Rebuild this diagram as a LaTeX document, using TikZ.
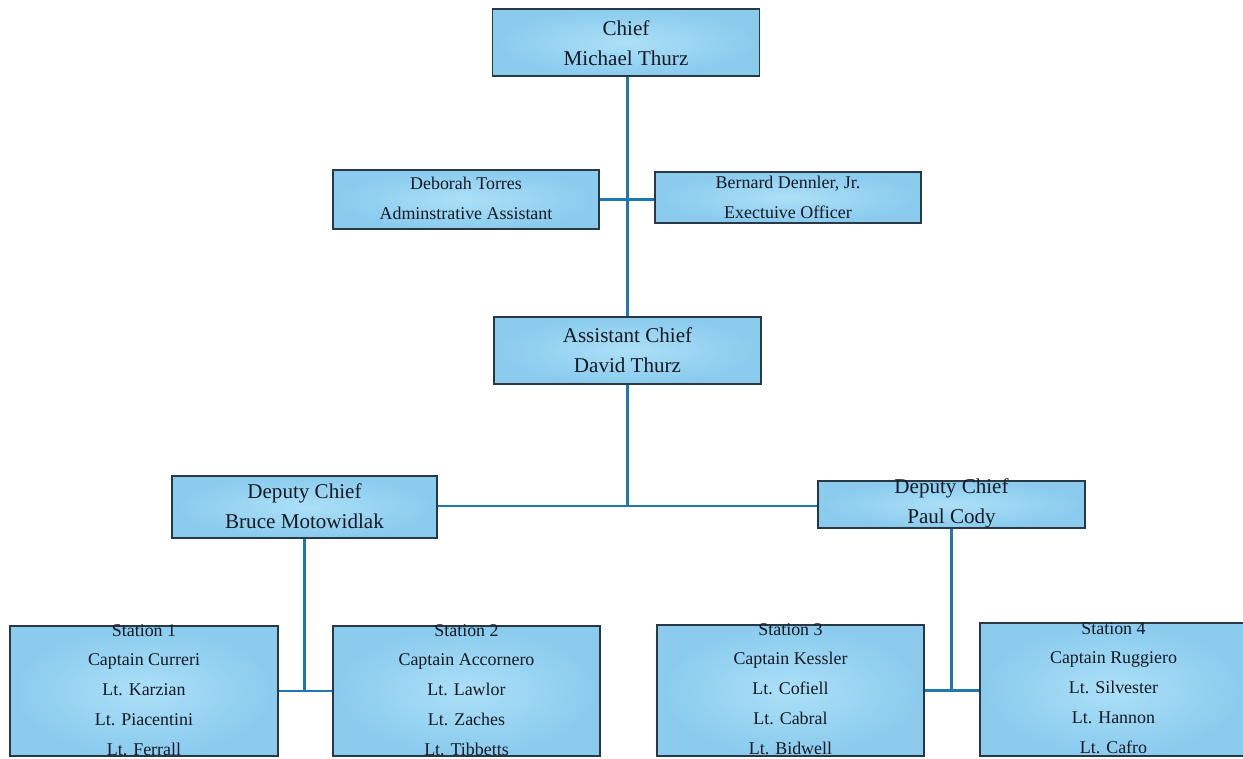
\documentclass[tikz,border=0pt]{standalone}
\usepackage{fontspec}
\setmainfont{Liberation Serif}
\usetikzlibrary{positioning}

\definecolor{boxfill}{RGB}{172,224,247}
\definecolor{boxedge}{RGB}{138,203,238}
\definecolor{boxline}{RGB}{40,56,68}
\definecolor{linkblue}{RGB}{30,120,172}
\definecolor{ink}{RGB}{20,25,35}

\begin{document}
\begin{tikzpicture}[x=0.02cm,y=-0.02cm,
    post/.style={draw=boxline,line width=1pt,inner color=boxfill,outer color=boxedge,
                 minimum width=5.34cm,inner sep=0pt},
    big/.style={align=center,inner sep=0pt,text=ink,font=\fontsize{12}{17}\selectfont},
    small/.style={align=center,inner sep=0pt,text=ink,font=\fontsize{10.2}{17}\selectfont},
    link/.style={draw=linkblue,line width=1.3pt}]
        \clip (0,0) rectangle (1243,758);

        % boxes
        \node[post,minimum height=1.34cm] at (626,42.5) (chief) {};
        \node[post,minimum width=5.32cm,minimum height=1.18cm] at (466,199.5) (torres) {};
        \node[post,minimum width=5.32cm,minimum height=1.02cm] at (788,197.5) (dennler) {};
        \node[post,minimum height=1.34cm] at (627.5,350.5) (asst) {};
        \node[post,minimum width=5.3cm,minimum height=1.24cm] at (304.5,507) (motow) {};
        \node[post,minimum height=0.94cm] at (951.5,504.5) (cody) {};
        \node[post,minimum width=5.36cm,minimum height=2.6cm] at (144,691) (st1) {};
        \node[post,minimum height=2.6cm] at (466.5,691) (st2) {};
        \node[post,minimum height=2.62cm] at (790.5,690.5) (st3) {};
        \node[post,minimum height=2.66cm] at (1113.5,689.5) (st4) {};

        % connectors
        \coordinate (split) at (asst.south |- 0,506);
        \draw[link] (asst.north |- chief.south) -- (asst.north);
        \draw[link] (torres.east) -- (torres.east -| dennler.west);
        \draw[link] (asst.south) -- (split);
        \draw[link] (motow.east |- split) -- (cody.west |- split);
        \draw[link] (motow.south) -- (motow.south |- st1.east);
        \draw[link] (st1.east) -- (st2.west);
        \draw[link] (cody.south) -- (cody.south |- st3.east);
        \draw[link] (st3.east) -- (st3.east -| st4.west);

        % names
        \node[big] at (626,43) (chieftxt) {Chief\\Michael Thurz};
        \node[small] at (466,198.5) (torrestxt) {Deborah Torres\\Adminstrative Assistant};
        \node[small] at (788,197) (dennlertxt) {Bernard Dennler, Jr.\\Exectuive Officer};
        \node[big] at (627.5,350.5) (assttxt) {Assistant Chief\\David Thurz};
        \node[big] at (304.5,506.5) (motowtxt) {Deputy Chief\\Bruce Motowidlak};
        \node[big] at (951.5,503.5) (codytxt) {Deputy Chief\\Paul Cody};
        \node[small] at (144,690) (st1txt) {Station 1\\Captain Curreri\\Lt. Karzian\\Lt. Piacentini\\Lt. Ferrall};
        \node[small] at (466.5,690) (st2txt) {Station 2\\Captain Accornero\\Lt. Lawlor\\Lt. Zaches\\Lt. Tibbetts};
        \node[small] at (790.5,689) (st3txt) {Station 3\\Captain Kessler\\Lt. Cofiell\\Lt. Cabral\\Lt. Bidwell};
        \node[small] at (1113.5,688) (st4txt) {Station 4\\Captain Ruggiero\\Lt. Silvester\\Lt. Hannon\\Lt. Cafro};
\end{tikzpicture}
\end{document}
